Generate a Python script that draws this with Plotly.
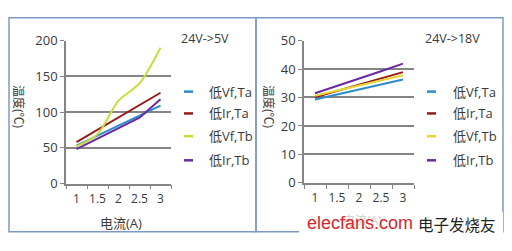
import plotly.graph_objects as go

# ---- data ----
currents = ["1", "1.5", "2", "2.5", "3"]
series_names = ["低Vf,Ta", "低Ir,Ta", "低Vf,Tb", "低Ir,Tb"]

# 24V->5V panel (temperature, °C)
left_vf_ta = [53, 67, 81, 96, 109]
left_ir_ta = [58, 75, 92, 110, 127]
left_vf_tb = [52, 69, 116, 140, 190]
left_ir_tb = [48, 63, 77, 92, 118]

# 24V->18V panel (temperature, °C)
right_vf_ta = [29.3, 31.0, 32.8, 34.6, 36.3]
right_ir_ta = [30.1, 32.3, 34.5, 36.7, 38.9]
right_vf_tb = [30.6, 32.4, 34.2, 36.0, 37.8]
right_ir_tb = [31.5, 34.0, 36.6, 39.2, 41.9]

left_ticks = [0, 50, 100, 150, 200]
right_ticks = [0, 10, 20, 30, 40, 50]
panel_titles = ["24V->5V", "24V->18V"]
x_title = "电流(A)"
y_title = "温度(℃)"

left_colors = ["#2b8ccc", "#951c1a", "#c9dc3a", "#6a2aa4"]
right_colors = ["#2b8ccc", "#951c1a", "#e6d630", "#6a2aa4"]

W, H = 512, 251
FONT = "Open Sans, Noto Sans CJK SC, sans-serif"
TXT = "#3a3a3a"
GRID = "#858585"

def px(x):
    return x / W

def py(y):
    return 1 - y / H

fig = go.Figure()

left_data = [left_vf_ta, left_ir_ta, left_vf_tb, left_ir_tb]
right_data = [right_vf_ta, right_ir_ta, right_vf_tb, right_ir_tb]

for i, (name, vals) in enumerate(zip(series_names, left_data)):
    fig.add_trace(go.Scatter(
        x=currents, y=vals, name=name, mode="lines",
        line=dict(color=left_colors[i], width=2,
                  shape="spline" if i == 2 else "linear", smoothing=0.8),
        xaxis="x", yaxis="y", showlegend=False, hoverinfo="skip"))

for i, (name, vals) in enumerate(zip(series_names, right_data)):
    fig.add_trace(go.Scatter(
        x=currents, y=vals, name=name, mode="lines",
        line=dict(color=right_colors[i], width=2),
        xaxis="x2", yaxis="y2", showlegend=False, hoverinfo="skip"))

xaxis_common = dict(
    type="category", range=[-0.5, 4.5], tickson="boundaries",
    ticks="outside", ticklen=4, tickcolor=GRID, tickwidth=1,
    showline=True, linecolor=GRID, linewidth=1.5, showgrid=False,
    zeroline=False, tickangle=0,
    tickfont=dict(family=FONT, size=12, color=TXT),
    ticklabelstandoff=3, fixedrange=True)
yaxis_common = dict(
    ticks="outside", ticklen=4, tickcolor=GRID, showline=True,
    linecolor=GRID, linewidth=1.5, showgrid=True, gridcolor=GRID,
    gridwidth=1.5, zeroline=False,
    tickfont=dict(family=FONT, size=13, color=TXT), fixedrange=True)

fig.update_layout(
    width=W, height=H, margin=dict(l=0, r=0, t=0, b=0),
    paper_bgcolor="white", plot_bgcolor="white", showlegend=False,
    xaxis=dict(domain=[px(66), px(171)], anchor="y", **xaxis_common),
    yaxis=dict(domain=[py(188), py(34)], anchor="x", range=[0, 200],
               tickvals=left_ticks, **yaxis_common),
    xaxis2=dict(domain=[px(304), px(414)], anchor="y2", **xaxis_common),
    yaxis2=dict(domain=[py(187.3), py(34)], anchor="x2", range=[0, 50],
                tickvals=right_ticks, **yaxis_common),
)

shapes = []
annotations = []

# panel borders
for x0, x1 in [(9, 256), (256, 503)]:
    shapes.append(dict(type="rect", xref="paper", yref="paper",
                       x0=px(x0), x1=px(x1), y0=py(240), y1=py(9.5),
                       line=dict(color="#7f99c6", width=1.5), layer="below"))

# legends (manual, short samples)
legend_rows = [89, 112.5, 137, 163]
for (lx0, lx1, tx, colors) in [(184, 193, 209, left_colors),
                               (427, 436, 453, right_colors)]:
    for yrow, col, name in zip(legend_rows, colors, series_names):
        shapes.append(dict(type="line", xref="paper", yref="paper",
                           x0=px(lx0), x1=px(lx1), y0=py(yrow), y1=py(yrow),
                           line=dict(color=col, width=2.5)))
        annotations.append(dict(xref="paper", yref="paper", x=px(tx - 2),
                                y=py(yrow), text=name, showarrow=False,
                                xanchor="left", yanchor="middle",
                                font=dict(family=FONT, size=13, color=TXT)))

# panel titles
annotations.append(dict(xref="paper", yref="paper", x=px(179), y=py(32),
                        text=panel_titles[0], showarrow=False, xanchor="left",
                        yanchor="middle",
                        font=dict(family=FONT, size=12.5, color=TXT)))
annotations.append(dict(xref="paper", yref="paper", x=px(423), y=py(32),
                        text=panel_titles[1], showarrow=False, xanchor="left",
                        yanchor="middle",
                        font=dict(family=FONT, size=12.5, color=TXT)))

# y titles (rotated clockwise)
for xc in [18.5, 268.5]:
    annotations.append(dict(xref="paper", yref="paper", x=px(xc), y=py(105),
                            text=y_title, showarrow=False, textangle=90,
                            xanchor="center", yanchor="middle",
                            font=dict(family=FONT, size=12, color=TXT)))

# x titles
annotations.append(dict(xref="paper", yref="paper", x=px(121), y=py(230),
                        text=x_title, showarrow=False, xanchor="center",
                        yanchor="middle",
                        font=dict(family=FONT, size=13, color=TXT)))
annotations.append(dict(xref="paper", yref="paper", x=px(362), y=py(228),
                        text=x_title, showarrow=False, xanchor="center",
                        yanchor="middle",
                        font=dict(family=FONT, size=12, color="#cfcfcf")))

# watermark
annotations.append(dict(xref="paper", yref="paper", x=px(360), y=py(231),
                        text="elecfans.com", showarrow=False,
                        xanchor="center", yanchor="middle",
                        font=dict(family="Liberation Sans, Arial", size=18,
                                  color="#d8262a")))
annotations.append(dict(xref="paper", yref="paper", x=px(457), y=py(232),
                        text="电子发烧友", showarrow=False,
                        xanchor="center", yanchor="middle",
                        font=dict(family="Noto Sans CJK SC", size=15.5,
                                  color="#222222")))
shapes.append(dict(type="rect", xref="paper", yref="paper",
                   x0=px(299), x1=px(503), y0=py(246), y1=py(219),
                   fillcolor="white", line=dict(width=0), layer="below"))

fig.update_layout(shapes=shapes, annotations=annotations)
fig.write_html("out.html")
